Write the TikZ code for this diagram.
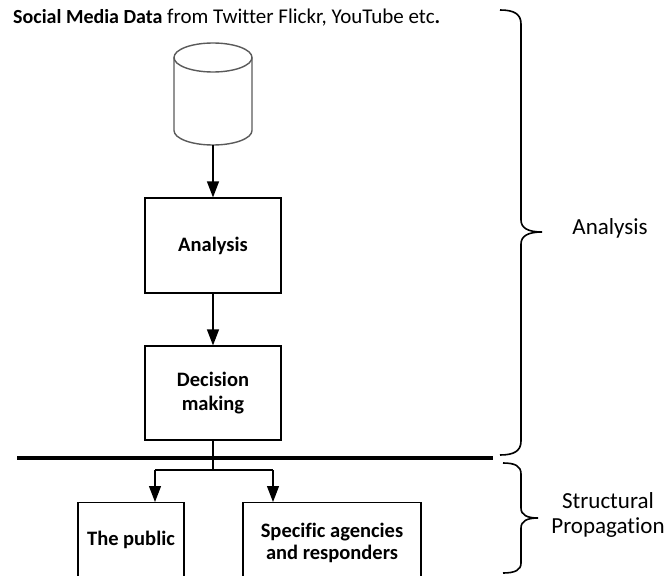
\documentclass[tikz,border=0pt]{standalone}
\usepackage{fontspec}
\setmainfont{Carlito}[Ligatures={NoCommon}]
\usetikzlibrary{arrows.meta}
\definecolor{cylgray}{HTML}{5A5A5A}
\begin{document}
\begin{tikzpicture}[x=1pt,y=1pt,
  box/.style={draw, line width=1.2pt, inner sep=0pt, align=center,
    font=\fontsize{20.5}{23.5}\selectfont\bfseries},
  btext/.style={inner sep=0pt, align=center, font=\fontsize{20.5}{22}\selectfont\bfseries},
  lab/.style={inner sep=0pt, align=center, font=\fontsize{23}{25}\selectfont},
  conn/.style={line width=1.2pt},
  arr/.style={conn, -{Triangle[length=16pt,width=12pt]}},
  bracel/.style={line width=1.6pt}]
\clip (0,0) rectangle (668,-575);
% title
\node[anchor=base west, inner sep=0pt, font=\fontsize{20}{24}\selectfont] (title) at (13,-24)
  {\textbf{Social Media Data}\fontsize{21}{24}\selectfont{} from Twitter Flickr, YouTube etc\textbf{.}};
% cylinder
\node[minimum width=78pt, minimum height=102pt, inner sep=0pt] (db) at (213,-94) {};
\draw[cylgray, line width=1.4pt] (213,-57.5) ellipse [x radius=39, y radius=14.5];
\draw[cylgray, line width=1.4pt] (174,-57.5) -- (174,-130.5) arc [start angle=180, end angle=360, x radius=39, y radius=14.5] -- (252,-57.5);
% boxes
\node[box, minimum width=136pt, minimum height=95pt] (ana) at (213,-245.5) {Analysis};
\node[box, minimum width=136pt, minimum height=94pt] (dec) at (213,-393) {Decision\\making};
\node[box, minimum width=106pt, minimum height=95pt, anchor=north] (pub) at (131,-502) {};
\node[btext] (pubt) at (131,-540) {The public};
\node[box, minimum width=178pt, minimum height=95pt, anchor=north] (spec) at (332,-502) {};
\node[btext] (spect) at (332,-542.5) {Specific agencies\\and responders};
% connectors
\draw[arr] (db.south) -- (ana.north);
\draw[arr] (ana.south) -- (dec.north);
\coordinate (hl1) at (17,-458);
\coordinate (hl2) at (493,-458);
\draw[line width=3.5pt] (hl1) -- (hl2);
\coordinate (j) at (213,-470);
\coordinate (pa) at (155,-470);
\coordinate (sa) at (273,-470);
\draw[conn] (dec.south) -- (j);
\draw[conn] (pa) -- (sa);
\draw[arr] (pa) -- (pa |- pub.north);
\draw[arr] (sa) -- (sa |- spec.north);
% braces
\draw[bracel] (500,-10) .. controls (514,-10) and (521,-14) .. (521,-24) -- (521,-220)
  .. controls (521,-228) and (528,-232) .. (542,-232)
  .. controls (528,-232) and (521,-236) .. (521,-244) -- (521,-441)
  .. controls (521,-451) and (514,-455) .. (500,-455);
\draw[bracel] (503,-463) .. controls (515,-463) and (521,-466) .. (521,-474) -- (521,-508)
  .. controls (521,-515) and (527,-518) .. (538,-518)
  .. controls (527,-518) and (521,-521) .. (521,-528) -- (521,-563)
  .. controls (521,-570) and (515,-573) .. (503,-573);
% labels
\node[lab] (lana) at (610,-228) {Analysis};
\node[lab] (lsp) at (608,-515) {Structural\\Propagation};
\end{tikzpicture}
\end{document}
